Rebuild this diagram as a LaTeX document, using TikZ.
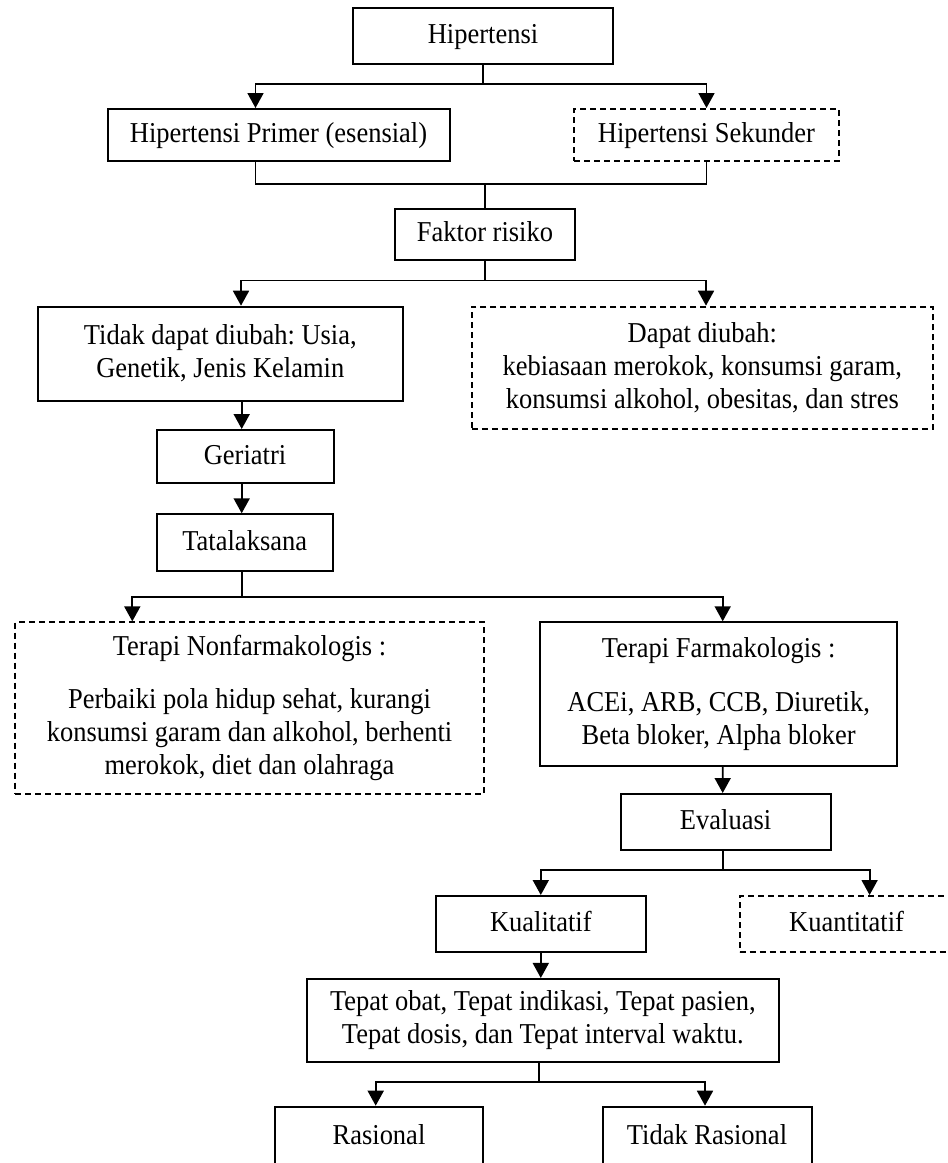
\documentclass[tikz,border=0pt]{standalone}
\usepackage{fontspec}
\setmainfont{Liberation Serif}[FakeStretch=0.92]
\usetikzlibrary{arrows.meta}
\frenchspacing

\begin{document}
\begin{tikzpicture}[x=1pt,y=-1pt,font=\fontsize{28.8}{33}\selectfont,
  box/.style={draw,line width=2pt,inner sep=0pt,align=center},
  dbox/.style={box,dash pattern=on 6pt off 4pt},
  oneline/.style={text height=20pt,text depth=4.6pt},
  conn/.style={line width=1.8pt},
  arr/.style={conn,-{Triangle[width=16pt,length=15pt]}}]

\useasboundingbox (0,0) rectangle (948,1163);

% ============ jenis hipertensi ============
\node[box,oneline,minimum width=260pt,minimum height=56pt] (hip) at (483,36) {Hipertensi};
\node[box,oneline,minimum width=342pt,minimum height=52pt] (prim) at (278.5,135) {Hipertensi Primer (esensial)};
\node[dbox,oneline,minimum width=265pt,minimum height=52pt] (sek) at (706.5,135) {Hipertensi Sekunder};
\node[box,oneline,minimum width=180pt,minimum height=51pt] (fak) at (485,234) {Faktor risiko};
\coordinate (m1) at (485,184.3);

\draw[arr] (hip.south) -- ++(0,19.3) -| ([xshift=-23pt]prim.north);
\draw[arr] (hip.south) -- ++(0,19.3) -| (sek.north);
\draw[conn] ([xshift=-23pt]prim.south) |- (m1);
\draw[conn] (sek.south) |- (m1);
\draw[conn] (m1) -- (fak.north);

% ============ faktor risiko ============
\node[box,minimum width=365pt,minimum height=94pt] (tdk) at (220.3,353.7) {Tidak dapat diubah: Usia,\\Genetik, Jenis Kelamin};
\node[dbox,minimum width=461pt,minimum height=122.6pt] (dpt) at (702.3,368) {Dapat diubah:\\kebiasaan merokok, konsumsi garam,\\konsumsi alkohol, obesitas, dan stres};
\node[box,oneline,minimum width=177pt,minimum height=53pt] (ger) at (245,456.5) {Geriatri};
\node[box,oneline,minimum width=176pt,minimum height=56.4pt] (tata) at (244.7,542.5) {Tatalaksana};

\draw[arr] (fak.south) -- ++(0,20) -| ([xshift=20.7pt]tdk.north);
\draw[arr] (fak.south) -- ++(0,20) -| ([xshift=3.7pt]dpt.north);
\draw[arr] ([xshift=-3.3pt]ger.north |- tdk.south) -- ([xshift=-3.3pt]ger.north);
\draw[arr] ([xshift=-3.3pt]ger.south) -- ([xshift=-3pt]tata.north);

% ============ terapi ============
\node[dbox,minimum width=469pt,minimum height=171.7pt] (non) at (249.5,708.2) {Terapi Nonfarmakologis :\\[20pt]Perbaiki pola hidup sehat, kurangi\\konsumsi garam dan alkohol, berhenti\\merokok, diet dan olahraga};
\node[box,minimum width=357pt,minimum height=143.4pt] (far) at (718.7,694) {Terapi Farmakologis :\\[21pt]ACEi, ARB, CCB, Diuretik,\\Beta bloker, Alpha bloker};

\draw[arr] ([xshift=-2.4pt]tata.south) -- ++(0,25) -| ([xshift=-117.2pt]non.north);
\draw[arr] ([xshift=-2.4pt]tata.south) -- ++(0,25) -| ([xshift=4pt]far.north);

% ============ evaluasi ============
\node[box,oneline,minimum width=210pt,minimum height=56pt] (eva) at (725.6,822) {Evaluasi};
\node[box,oneline,minimum width=210pt,minimum height=56pt] (kual) at (540.8,924) {Kualitatif};
\node[dbox,oneline,minimum width=214pt,minimum height=56pt] (kuan) at (846.6,924) {Kuantitatif};
\node[box,minimum width=472pt,minimum height=82.7pt] (tepat) at (542.8,1020.3) {Tepat obat, Tepat indikasi, Tepat pasien,\\Tepat dosis, dan Tepat interval waktu.};
\node[box,oneline,minimum width=208pt,minimum height=60pt] (ras) at (379,1136.7) {Rasional};
\node[box,oneline,minimum width=209pt,minimum height=60pt] (tras) at (707,1136.7) {Tidak Rasional};

\draw[arr] ([xshift=4pt]far.south) -- ([xshift=-2.9pt]eva.north);
\draw[arr] ([xshift=-2.9pt]eva.south) -- ++(0,19) -| (kual.north);
\draw[arr] ([xshift=-2.9pt]eva.south) -- ++(0,19) -| ([xshift=23pt]kuan.north);
\draw[arr] (kual.south) -- (kual.south |- tepat.north);
\draw[arr] ([xshift=-3.5pt]tepat.south) -- ++(0,19) -| ([xshift=-3.3pt]ras.north);
\draw[arr] ([xshift=-3.5pt]tepat.south) -- ++(0,19) -| ([xshift=-2pt]tras.north);

\end{tikzpicture}
\end{document}
